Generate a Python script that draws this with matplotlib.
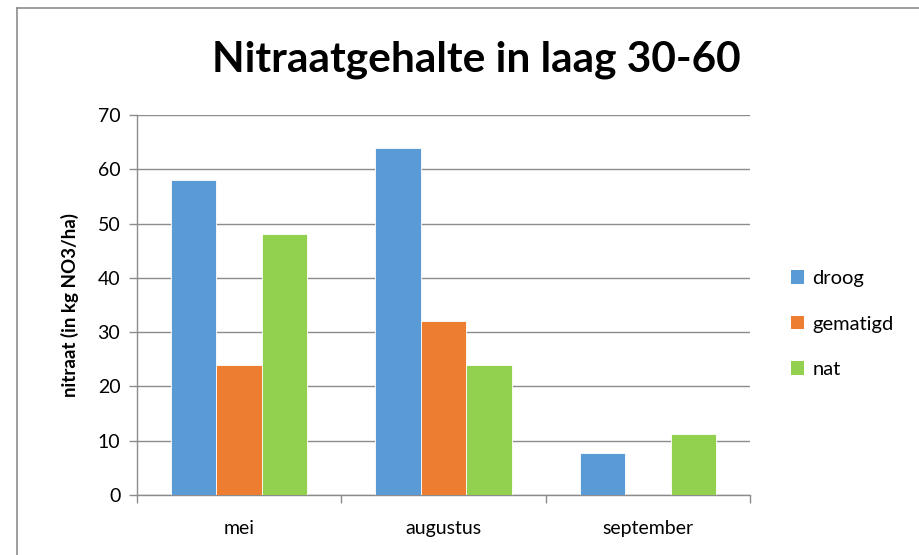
import matplotlib
matplotlib.use("Agg")
import matplotlib.pyplot as plt
from matplotlib.patches import Patch
from matplotlib.lines import Line2D
import numpy as np

plt.rcParams['font.family'] = ['Lato', 'DejaVu Sans']

categories = ["mei", "augustus", "september"]
series_names = ["droog", "gematigd", "nat"]
droog = [58, 64, 7.8]
gematigd = [24, 32, 0]
nat = [48, 24, 11.2]
yticks = [0, 10, 20, 30, 40, 50, 60, 70]
title = "Nitraatgehalte in laag 30-60"
ylabel = "nitraat (in kg NO3/ha)"

colors = ["#5B9BD5", "#ED7D31", "#92D050"]
grid_c = "#8C8C8C"

fig = plt.figure(figsize=(9.19, 5.55), dpi=100)
ax = fig.add_axes([137/919, 1-495/555, (750-137)/919, (495-115)/555])

x = np.arange(len(categories))
w = 1/4.5
for i, (vals, name) in enumerate(zip([droog, gematigd, nat], series_names)):
    ax.bar(x + (i-1)*w, vals, width=w, color=colors[i], edgecolor="white",
           linewidth=0.6, label=name, zorder=3)

ax.set_xlim(-0.5, 2.5)
ax.set_ylim(0, 70)
ax.set_yticks(yticks)
ax.set_yticklabels([str(v) for v in yticks], fontsize=14)
ax.yaxis.grid(True, color=grid_c, linewidth=1, zorder=0)
ax.set_xticks(x)
ax.set_xticklabels(categories, fontsize=14)
ax.set_xticks([-0.5, 0.5, 1.5, 2.5], minor=True)
ax.tick_params(axis='x', which='major', length=0, pad=18)
ax.tick_params(axis='x', which='minor', length=6, color=grid_c, width=1)
ax.tick_params(axis='y', length=6, color=grid_c, width=1, pad=6)
for s in ["top", "right"]:
    ax.spines[s].set_visible(False)
for s in ["left", "bottom"]:
    ax.spines[s].set_color(grid_c)
    ax.spines[s].set_linewidth(1)

fig.text(70/919, 1-305/555, ylabel, rotation=90, fontsize=13.5, fontweight='bold',
         ha='center', va='center')
fig.text(476/919, 1-60/555, title, fontsize=30.5, fontweight='bold',
         ha='center', va='center')

handles = [Patch(facecolor=c, edgecolor='none') for c in colors]
fig.legend(handles, series_names, loc='center left',
           bbox_to_anchor=(773/919, 1-324/555), frameon=False,
           fontsize=14.5, handlelength=0.65, handleheight=0.65,
           handletextpad=0.4, labelspacing=1.42)

# chart border (top and left visible)
fig.add_artist(Line2D([17/919, 17/919], [0, 1-8/555], transform=fig.transFigure,
                      color="#8C8C8C", linewidth=1.2))
fig.add_artist(Line2D([17/919, 1], [1-8/555, 1-8/555], transform=fig.transFigure,
                      color="#8C8C8C", linewidth=1.2))

fig.savefig("out.png", dpi=100)
